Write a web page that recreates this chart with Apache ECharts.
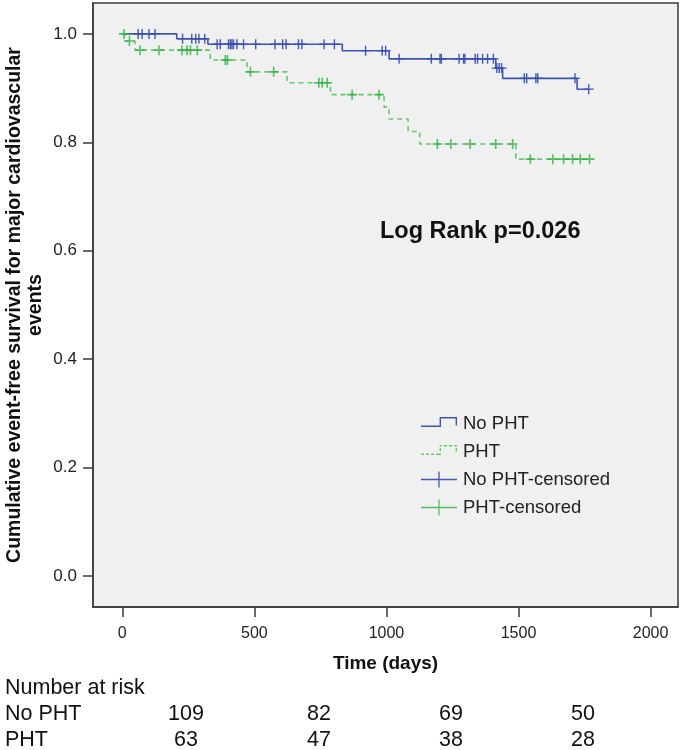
<!DOCTYPE html>
<html>
<head>
<meta charset="utf-8">
<script src="https://cdn.jsdelivr.net/npm/echarts@6/dist/echarts.min.js"></script>
<style>
html,body{margin:0;padding:0;background:#fff;}
#chart{width:683px;height:750px;}
</style>
</head>
<body>
<div id="chart"></div>
<script>
// ---------------- data ----------------
var xTicks = [0, 500, 1000, 1500, 2000];
var yTicks = [0, 0.2, 0.4, 0.6, 0.8, 1.0];

// No PHT: event times (days) and survival after each step
var noPhtEventTimes = [0, 206, 324, 833, 1010, 1414, 1440, 1722, 1766];
var noPhtEventSurv  = [1.0, 0.991, 0.981, 0.969, 0.954, 0.937, 0.918, 0.898, 0.898];
// PHT
var phtEventTimes = [0, 10, 48, 333, 472, 624, 788, 991, 1010, 1082, 1126, 1490, 1769];
var phtEventSurv  = [1.0, 0.987, 0.970, 0.952, 0.930, 0.910, 0.888, 0.865, 0.843, 0.820, 0.797, 0.769, 0.769];

// censored observations (days)
var noPhtCensorTimes = [60, 75, 101, 124, 228, 263, 278, 290, 312,
  359, 371, 402, 409, 415, 421, 434, 459, 505, 578, 607, 620, 667, 680, 764, 803,
  921, 984, 997, 1048, 1170, 1203, 1208, 1275, 1292, 1297, 1336, 1345, 1364, 1383, 1405,
  1418, 1427, 1436, 1522, 1531, 1566, 1573, 1714, 1766];
var phtCensorTimes = [6, 27, 67, 139, 226, 245, 258, 284, 390, 398, 485, 573,
  744, 757, 776, 870, 972, 1193, 1244, 1317, 1414, 1478,
  1545, 1630, 1671, 1705, 1734, 1769];

var riskGroups = ['No PHT', 'PHT'];
var riskNoPht = [109, 82, 69, 50];
var riskPht = [63, 47, 38, 28];

var seriesNames = ['No PHT', 'PHT', 'No PHT-censored', 'PHT-censored'];
var pValueText = 'Log Rank p=0.026';

// ---------------- helpers ----------------
function survAt(times, surv, t) {
  var s = surv[0];
  for (var i = 0; i < times.length; i++) { if (times[i] <= t) s = surv[i]; }
  return s;
}
function pairs(a, b) { return a.map(function (v, i) { return [v, b[i]]; }); }
function censorPts(ct, et, es) { return ct.map(function (t) { return [t, survAt(et, es, t)]; }); }

var BLUE = '#3d55b4', BLUE_MARK = '#3a50b0';
var GREEN = '#66c96a', GREEN_MARK = '#2fb043';
var crossPath = 'path://M0,4.4H10V5.6H0Z M4.3,0H5.7V10H4.3Z';
var crossPathG = 'path://M0,4.2H10V5.8H0Z M4.2,0H5.8V10H4.2Z';
var ext = ' M0,0H0.01V0.01Z M35.99,15.99H36V16Z';
var iconSolidStep = 'path://M0,10H20V11.4H0Z M18.6,1.5H20V11.4H18.6Z M18.6,1.5H36V2.9H18.6Z M34.6,1.5H36V10H34.6Z' + ext;
var iconDashStep = 'path://M0,10H3V11.4H0Z M5,10H8V11.4H5Z M10,10H13V11.4H10Z M15,10H20V11.4H15Z' +
  ' M18.6,4.5H20V7.5H18.6Z M18.6,1.5H21V2.9H18.6Z M23,1.5H26V2.9H23Z M28,1.5H31V2.9H28Z M33,1.5H36V2.9H33Z' +
  ' M34.6,4.5H36V8H34.6Z' + ext;
var iconCross = 'path://M0,7.35H36V8.65H0Z M17.35,0H18.65V16H17.35Z' + ext;

var chart = echarts.init(document.getElementById('chart'), null, {renderer: 'canvas'});
var FONT = '"Liberation Sans", Arial, sans-serif';

var option = {
  backgroundColor: '#ffffff',
  animation: false,
  textStyle: {fontFamily: FONT},
  grid: {left: 93, right: 5, top: 3, bottom: 143, show: true, backgroundColor: '#f0f0f0',
    borderColor: '#3a3a3a', borderWidth: 1.5, containLabel: false, outerBoundsMode: 'none'},
  xAxis: {
    type: 'value', min: -111, max: 2104,
    name: 'Time (days)', nameLocation: 'middle', nameGap: 47,
    nameTextStyle: {fontSize: 19, fontWeight: 'bold', color: '#111', fontFamily: FONT},
    axisLine: {show: true, onZero: false, lineStyle: {color: '#3a3a3a', width: 1.5}},
    axisTick: {show: true, length: 10, customValues: xTicks, lineStyle: {color: '#3a3a3a', width: 1.5}},
    axisLabel: {customValues: xTicks, margin: 19, fontSize: 16, color: '#222', fontFamily: FONT,
      formatter: function (v) { return String(v); }},
    splitLine: {show: false}
  },
  yAxis: {
    type: 'value', min: -0.057, max: 1.057,
    name: 'Cumulative event-free survival for major cardiovascular\nevents',
    nameLocation: 'middle', nameGap: 47, nameMoveOverlap: false,
    nameTextStyle: {fontSize: 19.5, fontWeight: 'bold', color: '#111', lineHeight: 21, align: 'center', fontFamily: FONT},
    axisLine: {show: true, onZero: false, lineStyle: {color: '#3a3a3a', width: 1.5}},
    axisTick: {show: true, length: 10, customValues: yTicks, lineStyle: {color: '#3a3a3a', width: 1.5}},
    axisLabel: {customValues: yTicks, margin: 16, fontSize: 17, color: '#222', fontFamily: FONT,
      formatter: function (v) { return v.toFixed(1); }},
    splitLine: {show: false}
  },
  legend: {
    left: 416, top: 409, orient: 'vertical', itemWidth: 36, itemHeight: 16, itemGap: 9,
    selectedMode: false,
    textStyle: {fontSize: 18.5, color: '#222', fontFamily: FONT, padding: [0, 0, 0, 1]},
    itemStyle: {borderWidth: 0},
    data: [
      {name: seriesNames[0], icon: iconSolidStep, itemStyle: {color: BLUE, borderWidth: 0}},
      {name: seriesNames[1], icon: iconDashStep, itemStyle: {color: GREEN, borderWidth: 0}},
      {name: seriesNames[2], icon: iconCross, itemStyle: {color: BLUE_MARK, borderWidth: 0}},
      {name: seriesNames[3], icon: iconCross, itemStyle: {color: GREEN_MARK, borderWidth: 0}}
    ]
  },
  series: [
    {name: seriesNames[0], type: 'line', step: 'end', showSymbol: false, symbol: 'none',
      data: pairs(noPhtEventTimes, noPhtEventSurv), color: BLUE,
      lineStyle: {color: BLUE, width: 1.6}, z: 3},
    {name: seriesNames[1], type: 'line', step: 'end', showSymbol: false, symbol: 'none',
      data: pairs(phtEventTimes, phtEventSurv), color: GREEN,
      lineStyle: {color: GREEN, width: 1.6, type: [5, 4]}, z: 3},
    {name: seriesNames[2], type: 'scatter', symbol: crossPath, symbolSize: 10,
      data: censorPts(noPhtCensorTimes, noPhtEventTimes, noPhtEventSurv),
      itemStyle: {color: BLUE_MARK, opacity: 0.95}, z: 4},
    {name: seriesNames[3], type: 'scatter', symbol: crossPathG, symbolSize: 10,
      data: censorPts(phtCensorTimes, phtEventTimes, phtEventSurv),
      itemStyle: {color: GREEN_MARK}, z: 4}
  ],
  graphic: []
};
chart.setOption(option);

// annotation + number at risk table
var riskX = [186, 319, 451, 583];
var g = [];
g.push({type: 'text', left: 380, top: 220, z: 10,
  style: {text: pValueText, fontSize: 23.5, fontWeight: 'bold', fill: '#111', fontFamily: FONT}});
g.push({type: 'text', x: 5, y: 688, z: 10,
  style: {text: 'Number at risk', fontSize: 21.5, fill: '#111', fontFamily: FONT, verticalAlign: 'middle'}});
var rowsY = [714, 740];
[riskNoPht, riskPht].forEach(function (row, r) {
  g.push({type: 'text', x: 5, y: rowsY[r], z: 10,
    style: {text: riskGroups[r], fontSize: 21.5, fill: '#111', fontFamily: FONT, verticalAlign: 'middle'}});
  row.forEach(function (v, i) {
    g.push({type: 'text', x: riskX[i], y: rowsY[r], z: 10,
      style: {text: String(v), fontSize: 21.5, fill: '#111', fontFamily: FONT, align: 'center', verticalAlign: 'middle'}});
  });
});
chart.setOption({graphic: g});
</script>
</body>
</html>
